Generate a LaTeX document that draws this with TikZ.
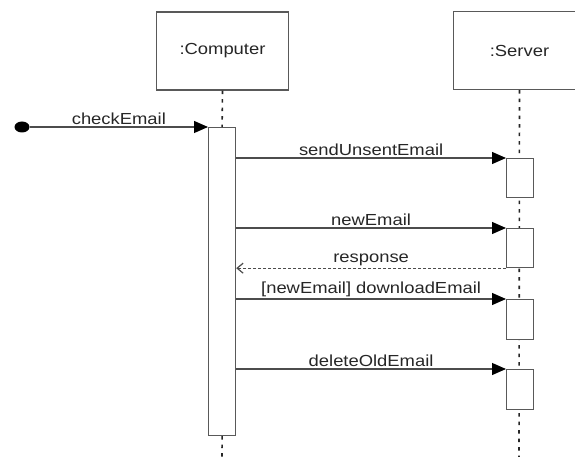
\documentclass[tikz,border=0pt]{standalone}
\usepackage{fontspec}
\setmainfont{Liberation Sans}[FakeStretch=1.15]
\usetikzlibrary{arrows.meta,shapes.geometric}

\begin{document}
\begin{tikzpicture}[x=1pt,y=-1pt,
  obj_node/.style={draw=black!65,fill=white,line width=1.2pt,minimum width=132pt,minimum height=78pt,text=black!85,font=\fontsize{16}{19}\selectfont},
  act_node/.style={draw=black!65,fill=white,line width=1.2pt,minimum width=27pt,anchor=north west,inner sep=0pt},
  msg_label/.style={above,inner sep=2pt,text=black!85,font=\fontsize{16}{19}\selectfont}]

    \useasboundingbox (0,0) rectangle (575,457);
    \clip (0,0) rectangle (575,457);

    \node[obj_node] (comp) at (222.5,51) {:Computer};
    \node[obj_node] (serv) at (519.5,50.5) {:Server};
    \coordinate (cend) at (222,457);
    \coordinate (send) at (519,457);

    % lifelines
    \begin{scope}[every path/.style={draw=black!85,line width=1.6pt,dash pattern=on 3.5pt off 5pt}]
       \draw (serv.south) -- (send);
    \end{scope}

    \node[ellipse,fill=black,minimum width=15pt,minimum height=11pt,inner sep=0pt] (start) at (22,127) {};
    \node[act_node,minimum height=308pt] (cbar) at (208,127) {};
    \node[act_node,minimum height=39pt] (s1) at (506,158) {};
    \node[act_node,minimum height=39pt] (s2) at (506,228) {};
    \node[act_node,minimum height=40pt] (s3) at (506,299) {};
    \node[act_node,minimum height=40pt] (s4) at (506,369) {};

    \begin{scope}[every path/.style={draw=black!85,line width=1.6pt,dash pattern=on 3.5pt off 5pt}]
       \draw (comp.south) -- (cbar.north);
       \draw (cbar.south) -- (cend);
    \end{scope}

    \coordinate (c1) at (cbar.east |- s1.north west);
    \coordinate (c2) at (cbar.east |- s2.north west);
    \coordinate (r2) at (cbar.east |- s2.south west);
    \coordinate (c3) at (cbar.east |- s3.north west);
    \coordinate (c4) at (cbar.east |- s4.north west);

    \begin{scope}[every path/.style={draw=black!70,line width=1.2pt,-{Triangle[length=14pt,width=12pt,color=black,fill=black]}}]
    \draw (start) -- node[msg_label] {checkEmail} (cbar.north west);
    \draw (c1) -- node[msg_label] {sendUnsentEmail} (s1.north west);
    \draw (c2) -- node[msg_label] {newEmail} (s2.north west);
    \draw (c3) -- node[msg_label] {[newEmail] downloadEmail} (s3.north west);
    \draw (c4) -- node[msg_label] {deleteOldEmail} (s4.north west);
    \end{scope}

    \begin{scope}[every path/.style={draw=black!70,line width=1.2pt,dash pattern=on 3pt off 2pt,-{Straight Barb[length=6pt,width=10pt]}}]
    \draw (s2.south west) -- node[msg_label] {response} (r2);
    \end{scope}
\end{tikzpicture}
\end{document}
